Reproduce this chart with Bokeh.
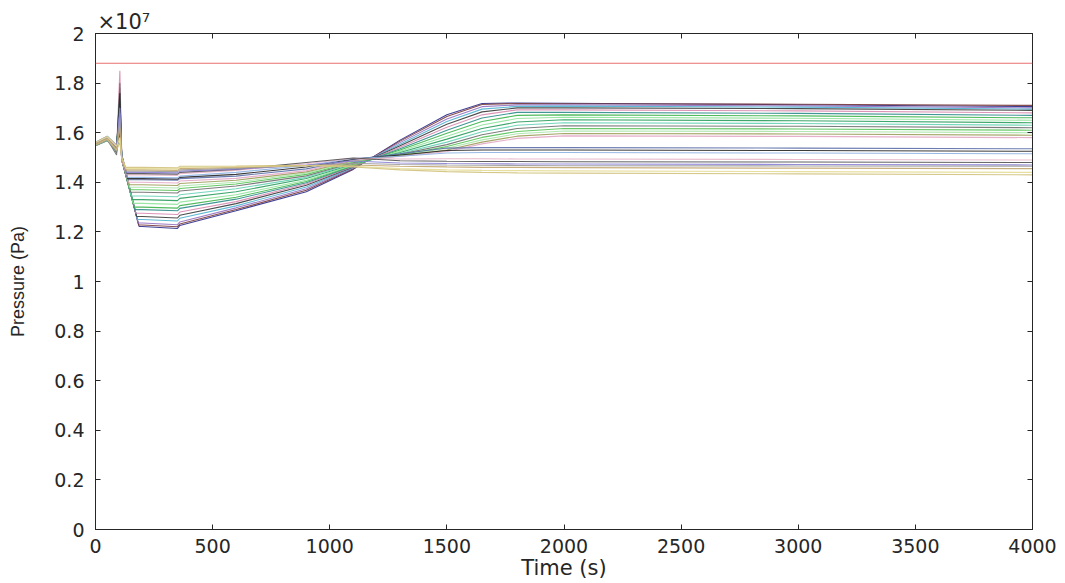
from bokeh.plotting import figure
from bokeh.models import Range1d, FixedTicker, NumeralTickFormatter, LinearAxis, Span
from bokeh.embed import file_html
from bokeh.resources import INLINE

# ---------------- data (pressure in units of 1e7 Pa, time in s) ----------------
X_TICKS = [0, 500, 1000, 1500, 2000, 2500, 3000, 3500, 4000]
Y_TICKS = [0, 0.2, 0.4, 0.6, 0.8, 1.0, 1.2, 1.4, 1.6, 1.8, 2.0]
LIMIT_P = 1.88          # red limit line

T_START, T_BUMP, T_PRE, T_SPIKE, T_AFTER = 0, 50, 90, 104, 112
P_T0 = [1.552, 1.556, 1.548, 1.560, 1.554, 1.550, 1.558, 1.562, 1.553, 1.547, 1.557, 1.551, 1.559,
        1.555, 1.549, 1.561, 1.553, 1.556, 1.550, 1.558, 1.552, 1.557, 1.548, 1.555, 1.560, 1.551]
P_T50 = [1.575, 1.580, 1.570, 1.584, 1.578, 1.572, 1.582, 1.586, 1.576, 1.568, 1.579, 1.574, 1.583,
         1.577, 1.571, 1.585, 1.576, 1.580, 1.573, 1.581, 1.575, 1.579, 1.569, 1.577, 1.583, 1.574]
P_T90 = [1.535, 1.540, 1.530, 1.545, 1.520, 1.530, 1.540, 1.550, 1.535, 1.525, 1.540, 1.510, 1.545,
         1.535, 1.530, 1.550, 1.535, 1.540, 1.530, 1.545, 1.535, 1.540, 1.525, 1.535, 1.545, 1.530]
P_SPIKE = [1.62, 1.66, 1.70, 1.74, 1.78, 1.85, 1.72, 1.68, 1.64, 1.60, 1.75, 1.80, 1.70,
           1.66, 1.62, 1.58, 1.72, 1.76, 1.68, 1.64, 1.60, 1.70, 1.66, 1.62, 1.58, 1.56]
P_T112 = [1.49, 1.50, 1.51, 1.50, 1.49, 1.51, 1.50, 1.49, 1.50, 1.51, 1.50, 1.49, 1.50,
          1.51, 1.50, 1.49, 1.50, 1.51, 1.50, 1.49, 1.50, 1.51, 1.50, 1.49, 1.50, 1.50]
KNEE_T = [186, 184, 182, 179, 176, 172, 168, 165, 161, 157, 153, 150, 148,
          146, 144, 141, 139, 138, 137, 135, 134, 133, 132, 131, 130, 129]

LATE_T = [200, 350, 360, 600, 900, 1100, 1300, 1500, 1650, 1800, 2000, 3000, 4000]
P_T200 = [1.222, 1.228, 1.236, 1.250, 1.262, 1.275, 1.290, 1.300, 1.315, 1.330, 1.345, 1.360, 1.370,
          1.380, 1.390, 1.400, 1.410, 1.415, 1.420, 1.430, 1.435, 1.440, 1.445, 1.450, 1.455, 1.460]
P_T350 = [1.214, 1.221, 1.229, 1.244, 1.256, 1.270, 1.285, 1.296, 1.311, 1.326, 1.342, 1.357, 1.367,
          1.377, 1.387, 1.397, 1.408, 1.413, 1.418, 1.428, 1.433, 1.438, 1.443, 1.448, 1.453, 1.458]
P_T360 = [1.226, 1.232, 1.240, 1.255, 1.267, 1.280, 1.295, 1.306, 1.320, 1.335, 1.350, 1.365, 1.375,
          1.385, 1.395, 1.405, 1.415, 1.420, 1.425, 1.435, 1.440, 1.445, 1.450, 1.455, 1.460, 1.465]
P_T600 = [1.285, 1.290, 1.297, 1.305, 1.314, 1.322, 1.332, 1.340, 1.350, 1.362, 1.374, 1.385, 1.393,
          1.400, 1.408, 1.416, 1.425, 1.432, 1.440, 1.448, 1.452, 1.453, 1.456, 1.460, 1.463, 1.466]
P_T900 = [1.362, 1.368, 1.374, 1.381, 1.388, 1.393, 1.398, 1.403, 1.408, 1.415, 1.420, 1.426, 1.432,
          1.437, 1.442, 1.447, 1.454, 1.462, 1.468, 1.475, 1.480, 1.470, 1.468, 1.468, 1.468, 1.468]
P_T1100 = [1.452, 1.455, 1.458, 1.460, 1.462, 1.464, 1.466, 1.468, 1.470, 1.473, 1.476, 1.479, 1.482,
           1.485, 1.487, 1.489, 1.492, 1.494, 1.496, 1.497, 1.498, 1.486, 1.477, 1.470, 1.465, 1.462]
P_T1300 = [1.570, 1.566, 1.560, 1.553, 1.547, 1.541, 1.535, 1.530, 1.525, 1.520, 1.516, 1.513, 1.510,
           1.508, 1.506, 1.504, 1.515, 1.510, 1.505, 1.494, 1.487, 1.478, 1.472, 1.465, 1.455, 1.450]
P_T1500 = [1.672, 1.665, 1.655, 1.645, 1.634, 1.622, 1.610, 1.598, 1.586, 1.574, 1.562, 1.552, 1.544,
           1.537, 1.530, 1.524, 1.538, 1.528, 1.518, 1.495, 1.485, 1.476, 1.470, 1.462, 1.450, 1.443]
P_T1650 = [1.718, 1.714, 1.705, 1.695, 1.684, 1.672, 1.659, 1.645, 1.631, 1.617, 1.604, 1.592, 1.581,
           1.571, 1.562, 1.555, 1.540, 1.530, 1.520, 1.495, 1.484, 1.475, 1.469, 1.460, 1.448, 1.440]
P_T1800 = [1.720, 1.718, 1.712, 1.706, 1.700, 1.692, 1.682, 1.670, 1.657, 1.643, 1.630, 1.617, 1.605,
           1.596, 1.586, 1.577, 1.540, 1.530, 1.520, 1.494, 1.484, 1.474, 1.468, 1.460, 1.447, 1.438]
P_T2000 = [1.719, 1.717, 1.712, 1.707, 1.700, 1.692, 1.682, 1.672, 1.662, 1.652, 1.640, 1.628, 1.617,
           1.607, 1.597, 1.587, 1.540, 1.530, 1.520, 1.494, 1.483, 1.474, 1.467, 1.459, 1.446, 1.437]
P_T3000 = [1.713, 1.715, 1.708, 1.703, 1.697, 1.688, 1.678, 1.668, 1.658, 1.648, 1.637, 1.626, 1.615,
           1.605, 1.595, 1.585, 1.538, 1.528, 1.518, 1.492, 1.482, 1.472, 1.466, 1.457, 1.443, 1.434]
P_T4000 = [1.705, 1.710, 1.700, 1.695, 1.690, 1.680, 1.670, 1.660, 1.650, 1.640, 1.630, 1.620, 1.610,
           1.600, 1.590, 1.580, 1.535, 1.525, 1.515, 1.490, 1.480, 1.470, 1.465, 1.455, 1.440, 1.430]

# ---------------- styles ----------------
COLORS = ["#2b2b8c", "#7a3b3b", "#9370c0", "#4fb3d0", "#3a3a3a", "#d889b0", "#2e8b8b", "#3cb44b",
          "#8fe39a", "#2a9d5c", "#66d1b5", "#6e6e6e", "#55c255", "#a8e6a8", "#9c9c5a", "#e3a6c6",
          "#5a6ea8", "#262626", "#8fb2e3", "#e6b3c7", "#505050", "#8a7fd6", "#9a9a9a", "#c2a46e",
          "#e4dc94", "#d1c27c"]
AX = "#262626"
TICK_FONT = "DejaVu Sans"

p = figure(width=1065, height=583, output_backend="svg", toolbar_location=None,
           x_range=Range1d(0, 4000), y_range=Range1d(0, 2.0),
           min_border_left=95, min_border_right=33, min_border_top=33, min_border_bottom=54)
p.background_fill_color = "white"
p.border_fill_color = "white"
p.outline_line_color = AX
p.grid.visible = False

p.title.text = "\u00d710\u2077"
p.title.text_font = TICK_FONT
p.title.text_font_size = "21px"
p.title.text_font_style = "normal"
p.title.text_color = AX
p.title.align = "left"
p.title.offset = 2
p.title.standoff = 0

late_cols = [P_T200, P_T350, P_T360, P_T600, P_T900, P_T1100, P_T1300, P_T1500,
             P_T1650, P_T1800, P_T2000, P_T3000, P_T4000]
n = len(P_T200)
for i in range(n):
    ts = [T_START, T_BUMP, T_PRE, T_SPIKE, T_AFTER, KNEE_T[i]] + LATE_T
    ps = [P_T0[i], P_T50[i], P_T90[i], P_SPIKE[i], P_T112[i], P_T200[i]] + [c[i] for c in late_cols]
    p.line(ts, ps, line_color=COLORS[i], line_width=1.1, line_alpha=0.9)

p.add_layout(Span(location=LIMIT_P, dimension="width", line_color="#e87070", line_width=1))

def style_axis(ax, ticks):
    ax.ticker = FixedTicker(ticks=ticks)
    ax.major_tick_in = 5
    ax.major_tick_out = 0
    ax.minor_tick_line_color = None
    ax.axis_line_color = AX
    ax.major_tick_line_color = AX
    ax.major_label_text_color = AX
    ax.major_label_text_font = TICK_FONT
    ax.major_label_text_font_size = "19px"
    ax.formatter = NumeralTickFormatter(format="0.[0]")

style_axis(p.xaxis[0], X_TICKS)
style_axis(p.yaxis[0], Y_TICKS)
p.xaxis[0].major_label_standoff = 9
p.yaxis[0].major_label_standoff = 11
p.xaxis[0].formatter = NumeralTickFormatter(format="0")

p.xaxis[0].axis_label = "Time (s)"
p.xaxis[0].axis_label_text_font = TICK_FONT
p.xaxis[0].axis_label_text_font_size = "21px"
p.xaxis[0].axis_label_text_font_style = "normal"
p.xaxis[0].axis_label_text_color = AX
p.xaxis[0].axis_label_standoff = 0

p.yaxis[0].axis_label = "Pressure (Pa)"
p.yaxis[0].axis_label_text_font = "Liberation Sans"
p.yaxis[0].axis_label_text_font_size = "18px"
p.yaxis[0].axis_label_text_font_style = "normal"
p.yaxis[0].axis_label_text_color = AX
p.yaxis[0].axis_label_standoff = 23

for loc, ticks in (("right", Y_TICKS), ("above", X_TICKS)):
    ax = LinearAxis()
    style_axis(ax, ticks)
    ax.major_label_text_font_size = "0px"
    ax.major_label_text_color = None
    ax.major_label_standoff = 0
    p.add_layout(ax, loc)

open("out.html", "w").write(file_html(p, INLINE))
